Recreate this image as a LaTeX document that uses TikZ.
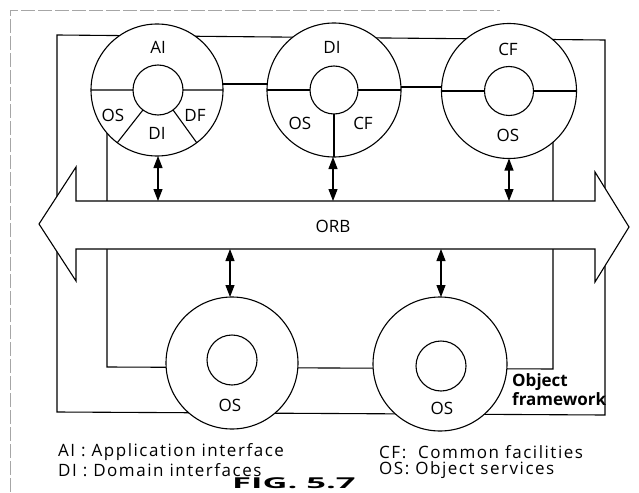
\documentclass[tikz,border=0pt]{standalone}
\usepackage{fontspec}
\setmainfont{Open Sans}
\usetikzlibrary{arrows.meta,backgrounds,calc}
\begin{document}
\begin{tikzpicture}[x=1pt,y=-1pt,
  ln/.style={line width=1.1pt,black},
  outer/.style={circle,draw,ln,fill=white,inner sep=0pt,outer sep=0pt,minimum size=#1},
  inner/.style={circle,draw,ln,fill=white,inner sep=0pt,outer sep=0pt,minimum size=#1},
  lbl/.style={font=\fontsize{17}{17}\selectfont,inner sep=0pt},
  leg/.style={font=\fontsize{17}{19}\selectfont\addfontfeatures{LetterSpace=9},inner sep=0pt,anchor=west},
  dbl/.style={ln,{Triangle[length=12pt,width=9pt]}-{Triangle[length=12pt,width=9pt]}},
  scan/.style={gray!70,line width=0.8pt,dash pattern=on 14pt off 3pt}]
\useasboundingbox (0,0) rectangle (639,492);
% scan border
\draw[scan] (10,492) -- (10,10) -- (500,10);
% circles
\node[outer=132pt] (AIo) at (157,90) {};
\node[inner=50pt]  (AIi) at (158,90) {};
\node[outer=134pt] (DIo) at (334,90) {};
\node[inner=48pt]  (DIi) at (334,90) {};
\node[outer=135pt] (CFo) at (509,91) {};
\node[inner=49pt]  (CFi) at (509,91) {};
\node[outer=132pt] (LLo) at (232,363) {};
\node[inner=50pt]  (LLi) at (232,360) {};
\node[outer=134pt] (LRo) at (440,364) {};
\node[inner=50pt]  (LRi) at (441,366) {};
% frame coordinates
\coordinate (tl) at (57,35);
\coordinate (tr) at (605,40);
\coordinate (br) at (605,415);
\coordinate (bl) at (57,412);
\coordinate (il) at (107,367);
\coordinate (ir) at (553,369);
\coordinate (barT) at (0,201);
\coordinate (barB) at (0,249);
\begin{pgfonlayer}{background}
  \draw[ln] (tl) -- (tr) -- (br) -- (bl) -- cycle;
  \draw[ln] (il |- AIo.center) -- (il) -- (ir) -- (ir |- CFo.center);
  \draw[ln] ([yshift=6pt]AIo.center) -- ([yshift=6pt]DIo.center);
  \draw[ln] ([yshift=3pt]DIo.center) -- ([yshift=4pt]CFo.center);
\end{pgfonlayer}
% ORB arrow
\draw[ln,fill=white] (39,224) -- (76,167) -- (76,201) -- (595,201) -- (595,172)
  -- (629,227) -- (595,282) -- (595,249) -- (76,249) -- (76,281) -- cycle;
\node[lbl] (orb) at (333,226) {ORB};
% circle dividers
\draw[ln] (AIo.180) -- (AIi.180) (AIi.0) -- (AIo.0)
          (AIi.233) -- (AIo.233) (AIi.307) -- (AIo.307);
\draw[ln] (DIo.180) -- (DIi.180) (DIi.0) -- (DIo.0) (DIi.270) -- (DIo.270);
\draw[ln] (CFo.180) -- (CFi.180) (CFi.0) -- (CFo.0);
% labels
\node[lbl] (l1) at (158,47) {AI};
\node[lbl] (l2) at (113,115) {OS};
\node[lbl] (l3) at (157,133) {DI};
\node[lbl] (l4) at (195,115) {DF};
\node[lbl] (l5) at (332,47) {DI};
\node[lbl] (l6) at (300,123) {OS};
\node[lbl] (l7) at (363,123) {CF};
\node[lbl] (l8) at (508,49) {CF};
\node[lbl] (l9) at (508,135) {OS};
\node[lbl] (l10) at (230,405) {OS};
\node[lbl] (l11) at (442,408) {OS};
\node[lbl,font=\fontsize{17}{19}\selectfont\bfseries,align=left,anchor=north west] (of) at (512,373) {Object\\framework};
% double arrows
\draw[dbl] (AIo.south -| 158,0) -- (barT -| 158,0);
\draw[dbl] (DIo.south -| 333,0) -- (barT -| 333,0);
\draw[dbl] (CFo.south) -- (barT -| CFo.south);
\draw[dbl] (barB -| 230,0) -- (LLo.north -| 230,0);
\draw[dbl] (barB -| 441,0) -- (LRo.north -| 441,0);
% legend
\node[leg] (g1) at (58,452) {AI : Application interface};
\node[leg] (g2) at (58,470) {DI : Domain interfaces};
\node[leg] (g3) at (379,452) {CF:\ \ Common facilities};
\node[leg] (g4) at (379,470) {OS: Object services};
\node[font=\fontsize{15}{15}\selectfont\bfseries,anchor=north west,inner sep=0pt] (fig) at (232,477) {\scalebox{2.3}[1]{FIG. 5.7}};
\end{tikzpicture}
\end{document}
